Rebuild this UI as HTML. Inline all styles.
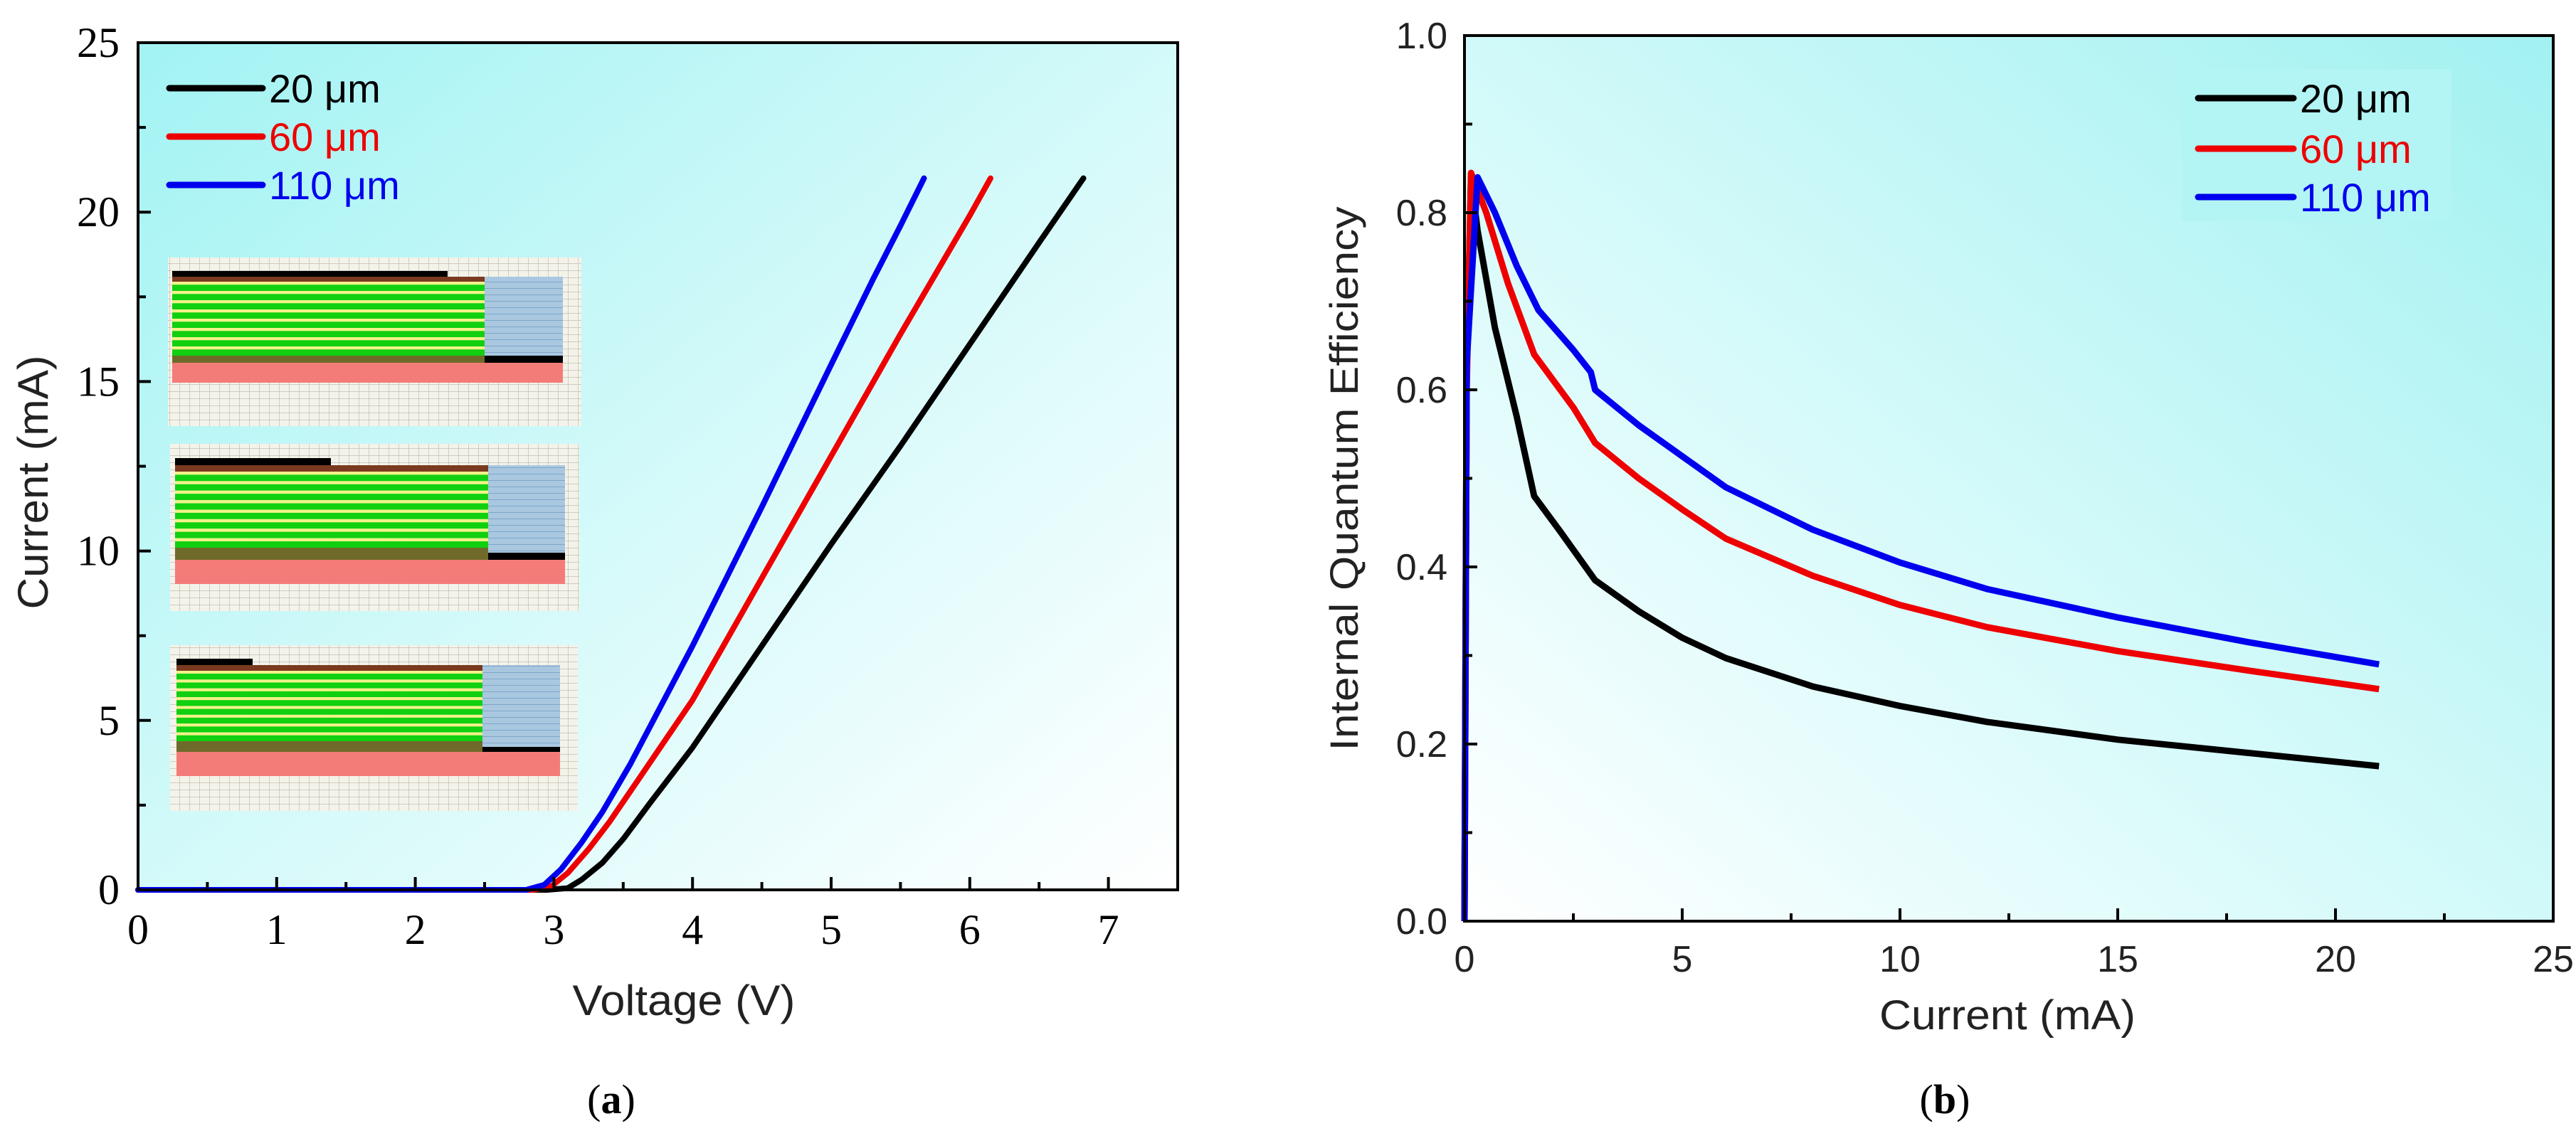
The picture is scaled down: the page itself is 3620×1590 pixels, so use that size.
<!DOCTYPE html>
<html><head><meta charset="utf-8"><style>
html,body{margin:0;padding:0;background:#fff;}
svg{display:block;}
</style></head><body>
<svg id="fig" width="3620" height="1590" viewBox="0 0 3620 1590" xmlns="http://www.w3.org/2000/svg">
<defs>
<linearGradient id="bgA" x1="0" y1="0" x2="1" y2="1"><stop offset="0" stop-color="#a2f3f3"/><stop offset="0.55" stop-color="#d8fafa"/><stop offset="1" stop-color="#ffffff"/></linearGradient>
<linearGradient id="bgB" x1="1" y1="0" x2="0" y2="1"><stop offset="0" stop-color="#a2f1f1"/><stop offset="0.55" stop-color="#d6fafa"/><stop offset="1" stop-color="#ffffff"/></linearGradient>
<pattern id="grid" width="14" height="10" patternUnits="userSpaceOnUse"><rect width="14" height="10" fill="#f4f3ea"/><path d="M0 0H14M0 0V10" stroke="#b9b6aa" stroke-width="1.2"/></pattern>
<pattern id="blueS" width="10" height="9" patternUnits="userSpaceOnUse"><rect width="10" height="9" fill="#a9c8e0"/><path d="M0 0H10" stroke="#7fa6c8" stroke-width="2"/></pattern>
</defs>
<g id="plotA"></g>
<g id="plotB"></g>
</svg>
<script>
// ---- Chart A data (I-V) ----
const ivSeriesNames = ["20 μm", "60 μm", "110 μm"];
const ivColors = ["#000000", "#ee0000", "#0000ee"];
const ivV20 = [0, 2.95, 3.1, 3.2, 3.35, 3.5, 3.7, 4.0, 4.5, 5.0, 5.5, 6.0, 6.5, 6.82];
const ivI20 = [0, 0, 0.05, 0.3, 0.8, 1.5, 2.6, 4.2, 7.2, 10.2, 13.1, 16.1, 19.1, 21.0];
const ivV60 = [0, 2.85, 2.98, 3.1, 3.25, 3.4, 3.6, 4.0, 4.5, 5.0, 5.5, 6.0, 6.15];
const ivI60 = [0, 0, 0.1, 0.5, 1.2, 2.0, 3.2, 5.6, 9.2, 12.8, 16.4, 19.9, 21.0];
const ivV110 = [0, 2.8, 2.93, 3.05, 3.2, 3.35, 3.55, 4.0, 4.5, 5.0, 5.3, 5.5, 5.67];
const ivI110 = [0, 0, 0.15, 0.6, 1.4, 2.3, 3.7, 7.2, 11.3, 15.5, 18.0, 19.6, 21.0];
const ivXTicks = ["0","1","2","3","4","5","6","7"];
const ivYTicks = ["0","5","10","15","20","25"];
// ---- Chart B data (IQE) ----
const iqeX20 = [0, 0.05, 0.15, 0.3, 0.7, 1.2, 1.6, 2.2, 3, 4, 5, 6, 8, 10, 12, 15, 18, 21];
const iqeY20 = [0, 0.62, 0.84, 0.78, 0.67, 0.57, 0.48, 0.44, 0.385, 0.35, 0.32, 0.297, 0.265, 0.243, 0.225, 0.205, 0.19, 0.175];
const iqeX60 = [0, 0.05, 0.15, 0.5, 1, 1.6, 2.5, 3, 4, 5, 6, 8, 10, 12, 15, 18, 21];
const iqeY60 = [0, 0.6, 0.845, 0.8, 0.72, 0.64, 0.58, 0.54, 0.5, 0.465, 0.432, 0.39, 0.357, 0.332, 0.305, 0.283, 0.262];
const iqeX110 = [0, 0.05, 0.3, 0.7, 1.2, 1.7, 2.5, 2.9, 3, 4, 5, 6, 8, 10, 12, 15, 18, 21];
const iqeY110 = [0, 0.63, 0.84, 0.8, 0.74, 0.69, 0.645, 0.62, 0.6, 0.56, 0.525, 0.49, 0.442, 0.405, 0.375, 0.343, 0.315, 0.29];
const iqeXTicks = ["0","5","10","15","20","25"];
const iqeYTicks = ["0.0","0.2","0.4","0.6","0.8","1.0"];

const NS = "http://www.w3.org/2000/svg";
function mk(parent, tag, attrs, text) {
  const e = document.createElementNS(NS, tag);
  for (const k in attrs) e.setAttribute(k, attrs[k]);
  if (text !== undefined) e.textContent = text;
  parent.appendChild(e);
  return e;
}

// ================= Chart A =================
(function(){
  const g = document.getElementById('plotA');
  const L = 194, R = 1655, T = 60, B = 1251;
  const xS = v => L + (v / 7.5) * (R - L);
  const yS = v => B - (v / 25) * (B - T);
  const bg = mk(g, 'rect', {x:L, y:T, width:R-L, height:B-T, fill:'url(#bgA)'});
  
  

  const panels = [
    {bx0:236,bx1:817,by0:362,by1:599,l:242,m:681,r:791,be:629,k0:381,k1:389,b1:396,s1:500,o1:510,p1:538,rb:500},
    {bx0:239,bx1:814,by0:624,by1:859,l:246,m:686,r:794,be:465,k0:644,k1:654,b1:663,s1:770,o1:787,p1:821,rb:777},
    {bx0:239,bx1:812,by0:907,by1:1140,l:248,m:678,r:787,be:355,k0:926,k1:935,b1:943,s1:1042,o1:1057,p1:1091,rb:1050}
  ];
  panels.forEach((p, i) => {
    const pg = mk(g, 'g', {});
    
    
    mk(pg, 'rect', {x:p.bx0, y:p.by0, width:p.bx1-p.bx0, height:p.by1-p.by0, fill:'url(#grid)'});
    mk(pg, 'rect', {x:p.l, y:p.k0, width:p.be-p.l, height:p.k1-p.k0, fill:'#000'});
    mk(pg, 'rect', {x:p.l, y:p.k1, width:p.m-p.l, height:p.b1-p.k1, fill:'#7a3a20'});
    const n = 8, h = (p.s1 - p.b1) / n;
    for (let k = 0; k < n; k++) {
      mk(pg, 'rect', {x:p.l, y:p.b1 + k*h, width:p.m-p.l, height:h, fill:'#f2f28a'});
      mk(pg, 'rect', {x:p.l, y:p.b1 + k*h + h*0.33, width:p.m-p.l, height:h*0.67, fill:'#10d010'});
    }
    mk(pg, 'rect', {x:p.l, y:p.s1, width:p.m-p.l, height:p.o1-p.s1, fill:'#6f6a2a'});
    mk(pg, 'rect', {x:p.l, y:p.o1, width:p.r-p.l, height:p.p1-p.o1, fill:'#f47c78'});
    mk(pg, 'rect', {x:p.m, y:p.k1, width:p.r-p.m, height:p.rb-p.k1, fill:'url(#blueS)'});
    mk(pg, 'rect', {x:p.m, y:p.rb, width:p.r-p.m, height:p.o1-p.rb, fill:'#000'});
  });

  const sets = [[ivV20, ivI20],[ivV60, ivI60],[ivV110, ivI110]];
  sets.forEach((s, i) => {
    const d = s[0].map((v, j) => (j ? 'L' : 'M') + xS(v).toFixed(1) + ' ' + yS(s[1][j]).toFixed(1)).join(' ');
    const p = mk(g, 'path', {d:d, fill:'none', stroke:ivColors[i], 'stroke-width':8, 'stroke-linejoin':'round', 'stroke-linecap':'round'});
    
    
  });

  mk(g, 'rect', {x:L, y:T, width:R-L, height:B-T, fill:'none', stroke:'#000', 'stroke-width':4});
  for (let v = 0; v <= 7.5; v += 0.5) {
    const x = xS(v), major = Math.abs(v - Math.round(v)) < 1e-6;
    mk(g, 'line', {x1:x, y1:B, x2:x, y2:B-(major?18:11), stroke:'#000', 'stroke-width':4});
  }
  ivXTicks.forEach((t, i) => {
    const e = mk(g, 'text', {x:xS(+t), y:1327, 'text-anchor':'middle', 'font-family':'Liberation Serif, serif', 'font-size':60}, t);
    
    
  });
  for (let v = 0; v <= 25; v += 2.5) {
    const y = yS(v), major = Math.abs(v % 5) < 1e-6;
    mk(g, 'line', {x1:L, y1:y, x2:L+(major?18:11), y2:y, stroke:'#000', 'stroke-width':4});
  }
  ivYTicks.forEach(t => {
    const e = mk(g, 'text', {x:168, y:yS(+t)+20, 'text-anchor':'end', 'font-family':'Liberation Serif, serif', 'font-size':60}, t);
    
    
  });
  const xt = mk(g, 'text', {x:961, y:1427, 'text-anchor':'middle', 'font-family':'Liberation Sans, sans-serif', 'font-size':60, fill:'#222', textLength:313, lengthAdjust:'spacingAndGlyphs'}, 'Voltage (V)');
  
  
  const yt = mk(g, 'text', {x:0, y:0, transform:'translate(67,678) rotate(-90)', 'text-anchor':'middle', 'font-family':'Liberation Sans, sans-serif', 'font-size':60, fill:'#222', textLength:357, lengthAdjust:'spacingAndGlyphs'}, 'Current (mA)');
  
  

  const ly = [124, 192, 260];
  ivSeriesNames.forEach((n, i) => {
    const lg = mk(g, 'g', {});
    
    
    mk(lg, 'line', {x1:238, y1:ly[i], x2:369, y2:ly[i], stroke:ivColors[i], 'stroke-width':9, 'stroke-linecap':'round'});
    mk(lg, 'text', {x:378, y:ly[i]+20, 'font-family':'Liberation Sans, sans-serif', 'font-size':56, fill:ivColors[i]}, n);
  });
  const cap = mk(g, 'text', {x:859, y:1565, 'text-anchor':'middle', 'font-family':'Liberation Serif, serif', 'font-size':58}, '');
  cap.appendChild(document.createTextNode('('));
  mk(cap, 'tspan', {'font-weight':'bold'}, 'a');
  cap.appendChild(document.createTextNode(')'));
  
  
})();

// ================= Chart B =================
(function(){
  const g = document.getElementById('plotB');
  const L = 2058, R = 3588, T = 50, B = 1295;
  const xS = v => L + (v / 25) * (R - L);
  const yS = v => B - v * (B - T);
  const bg = mk(g, 'rect', {x:L, y:T, width:R-L, height:B-T, fill:'url(#bgB)'});
  
  

  const lb = mk(g, 'rect', {x:3066, y:97, width:379, height:214, fill:'#b3f4f4'});
  
  

  const sets = [[iqeX20, iqeY20],[iqeX60, iqeY60],[iqeX110, iqeY110]];
  sets.forEach((s, i) => {
    const d = s[0].map((v, j) => (j ? 'L' : 'M') + xS(v).toFixed(1) + ' ' + yS(s[1][j]).toFixed(1)).join(' ');
    const p = mk(g, 'path', {d:d, fill:'none', stroke:ivColors[i], 'stroke-width':9, 'stroke-linejoin':'round'});
    
    
  });

  mk(g, 'rect', {x:L, y:T, width:R-L, height:B-T, fill:'none', stroke:'#000', 'stroke-width':4});
  for (let v = 0; v <= 25; v += 2.5) {
    const x = xS(v), major = Math.abs(v % 5) < 1e-6;
    mk(g, 'line', {x1:x, y1:B, x2:x, y2:B-(major?18:11), stroke:'#000', 'stroke-width':4});
  }
  iqeXTicks.forEach(t => {
    const e = mk(g, 'text', {x:xS(+t), y:1366, 'text-anchor':'middle', 'font-family':'Liberation Sans, sans-serif', 'font-size':52, fill:'#222'}, t);
    
    
  });
  for (let k = 0; k <= 10; k++) {
    const y = yS(k / 10), major = k % 2 === 0;
    mk(g, 'line', {x1:L, y1:y, x2:L+(major?18:11), y2:y, stroke:'#000', 'stroke-width':4});
  }
  iqeYTicks.forEach(t => {
    const e = mk(g, 'text', {x:2034, y:yS(+t)+18, 'text-anchor':'end', 'font-family':'Liberation Sans, sans-serif', 'font-size':52, fill:'#222'}, t);
    
    
  });
  const xt = mk(g, 'text', {x:2821, y:1447, 'text-anchor':'middle', 'font-family':'Liberation Sans, sans-serif', 'font-size':58, fill:'#222', textLength:360, lengthAdjust:'spacingAndGlyphs'}, 'Current (mA)');
  
  
  const yt = mk(g, 'text', {x:0, y:0, transform:'translate(1908,673) rotate(-90)', 'text-anchor':'middle', 'font-family':'Liberation Sans, sans-serif', 'font-size':56, fill:'#222', textLength:765, lengthAdjust:'spacingAndGlyphs'}, 'Internal Quantum Efficiency');
  
  

  const ly = [138, 209, 277];
  ivSeriesNames.forEach((n, i) => {
    const lg = mk(g, 'g', {});
    
    
    mk(lg, 'line', {x1:3089, y1:ly[i], x2:3223, y2:ly[i], stroke:ivColors[i], 'stroke-width':9, 'stroke-linecap':'round'});
    mk(lg, 'text', {x:3232, y:ly[i]+20, 'font-family':'Liberation Sans, sans-serif', 'font-size':56, fill:ivColors[i]}, n);
  });
  const cap = mk(g, 'text', {x:2733, y:1565, 'text-anchor':'middle', 'font-family':'Liberation Serif, serif', 'font-size':58}, '');
  cap.appendChild(document.createTextNode('('));
  mk(cap, 'tspan', {'font-weight':'bold'}, 'b');
  cap.appendChild(document.createTextNode(')'));
  
  
})();
</script>
</body></html>
